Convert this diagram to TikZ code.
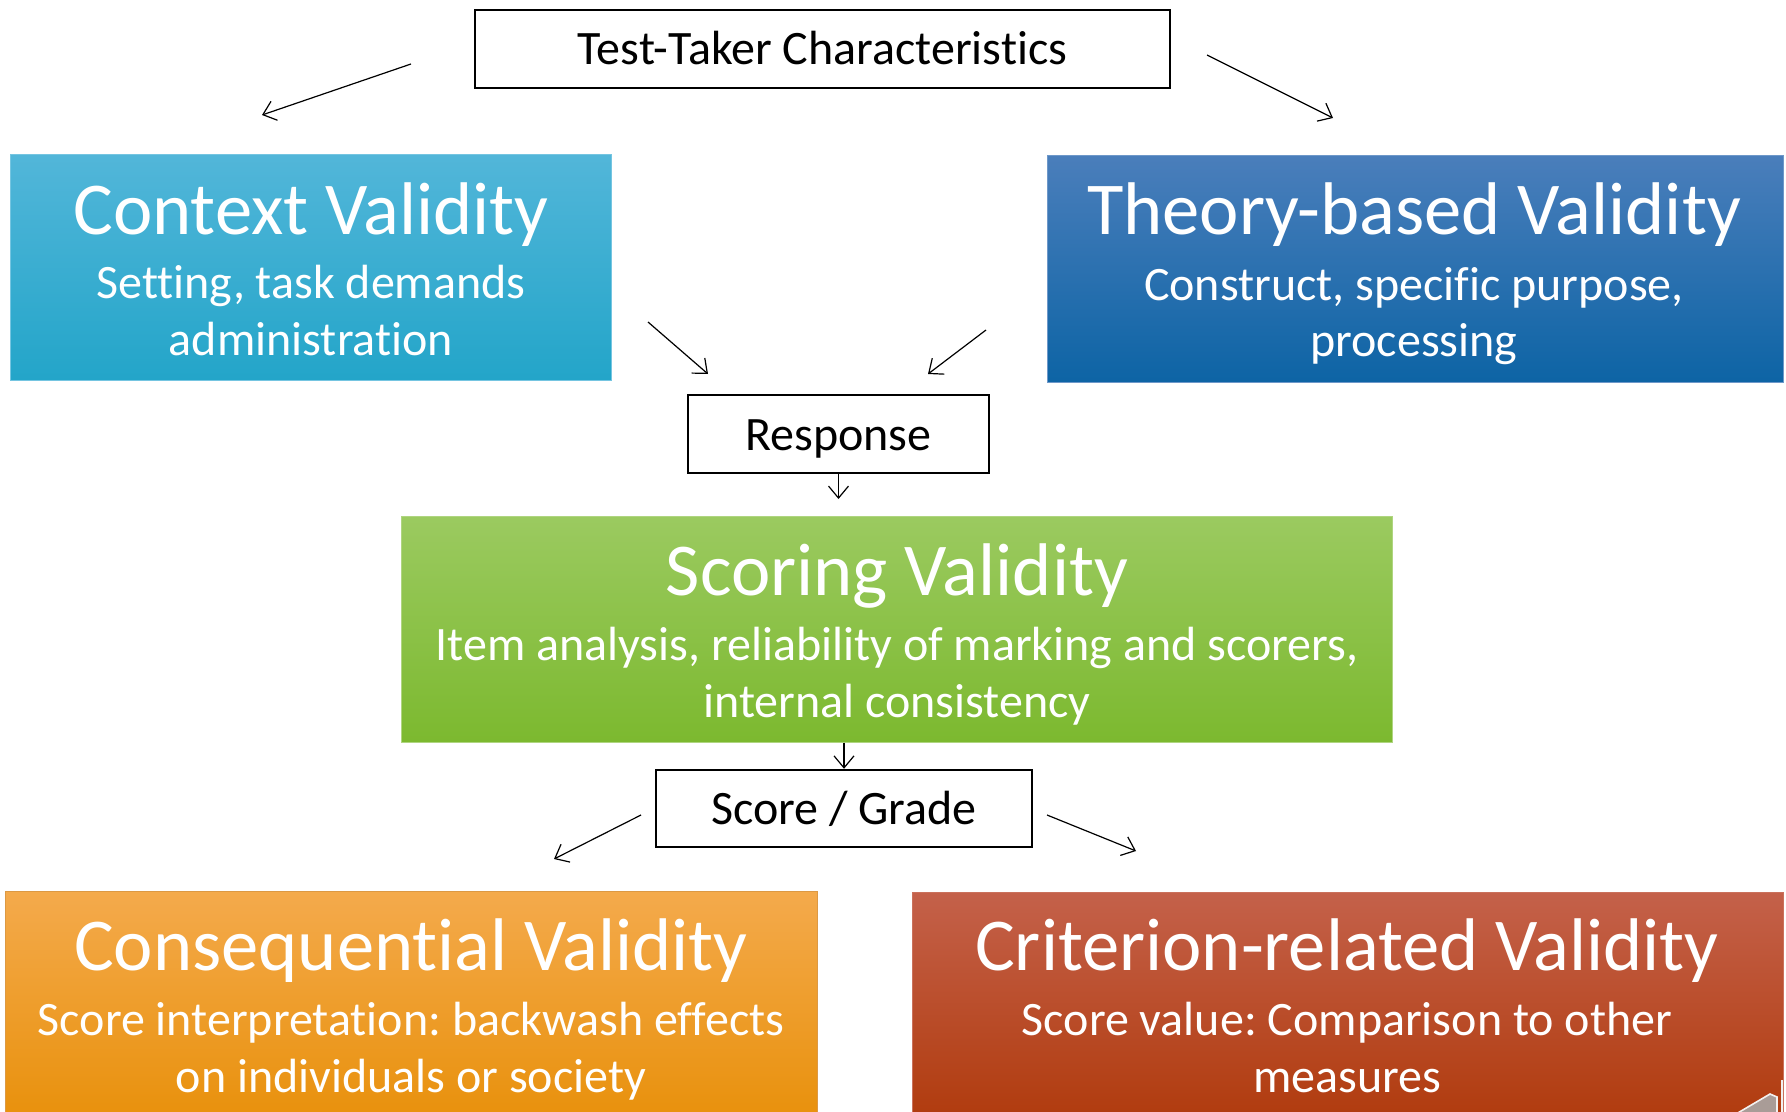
\documentclass[tikz,border=0pt]{standalone}
\usepackage{fontspec}
\setmainfont{Carlito}[Ligatures={NoCommon,NoRequired,NoContextual}]
\frenchspacing
\newcommand{\tiB}{t\kern0pt i}
\usetikzlibrary{arrows.meta}
\definecolor{ctxtop}{HTML}{52B6D9}
\definecolor{ctxbot}{HTML}{23A5C9}
\definecolor{thtop}{HTML}{4A7EBB}
\definecolor{thbot}{HTML}{0D64A5}
\definecolor{sctop}{HTML}{9BCA60}
\definecolor{scbot}{HTML}{7CB92F}
\definecolor{cqtop}{HTML}{F4AA4C}
\definecolor{cqbot}{HTML}{E8900A}
\definecolor{crtop}{HTML}{C4614A}
\definecolor{crbot}{HTML}{B03A0C}
\definecolor{icongrey}{HTML}{A99C97}
\begin{document}
\begin{tikzpicture}[x=0.5pt,y=-0.5pt,
  flowbox/.style={draw=black,line width=1.2pt,fill=white,inner sep=0},
  conn/.style={line width=0.6pt,-{Straight Barb[length=6pt,width=10pt]}},
  bigbox/.style={inner sep=0,line width=0.5pt},
  ttl/.style={anchor=base,text=white,inner sep=0,font=\fontsize{37.3}{40}\selectfont\frenchspacing},
  subt/.style={anchor=base,text=white,inner sep=0,font=\fontsize{24}{28}\selectfont\frenchspacing},
  lbl/.style={anchor=base,inner sep=0,font=\fontsize{24}{28}\selectfont\frenchspacing}]
\useasboundingbox (0,0) rectangle (1786,1112);

% big boxes
\node[bigbox,top color=ctxtop,bottom color=ctxbot,draw=ctxtop!80!white,minimum width=300.5pt,minimum height=112.5pt] (ctx) at (310.5,267.5) {};
\node[bigbox,top color=thtop,bottom color=thbot,draw=thtop!80!white,minimum width=368pt,minimum height=113pt] (theory) at (1415,269) {};
\node[bigbox,top color=sctop,bottom color=scbot,draw=sctop!80!white,minimum width=495.5pt,minimum height=113pt] (scoring) at (896.5,629) {};
\node[bigbox,top color=cqtop,bottom color=cqbot,draw=cqtop!90!black,minimum width=406pt,minimum height=117pt] (conseq) at (411,1008) {};
\node[bigbox,top color=crtop,bottom color=crbot,draw=crtop!90!white,minimum width=435.5pt,minimum height=116.5pt] (crit) at (1347.5,1008.5) {};

% texts in big boxes
\node[ttl] (ctxT) at (311,235) {Context Validity};
\node[subt] (ctxS1) at (311,299) {Setting, task demands};
\node[subt] (ctxS2) at (311,356) {administra\tiB on};

\node[ttl] (thT) at (1414,235) {Theory-based Validity};
\node[subt] (thS1) at (1414,300) {Construct, specific purpose,};
\node[subt] (thS2) at (1414,357) {processing};

\node[ttl] (scT) at (897,595) {Scoring Validity};
\node[subt] (scS1) at (897,660) {Item analysis, reliability of marking and scorers,};
\node[subt] (scS2) at (897,717) {internal consistency};

\node[ttl] (cqT) at (411,970) {Consequen\tiB al Validity};
\node[subt] (cqS1) at (411,1035) {Score interpreta\tiB on: backwash effects};
\node[subt] (cqS2) at (411,1092) {on individuals or society};

\node[ttl] (crT) at (1347,970) {Criterion-related Validity};
\node[subt] (crS1) at (1347,1035) {Score value: Comparison to other};
\node[subt] (crS2) at (1347,1092) {measures};

% small boxes
\node[flowbox,minimum width=347.5pt,minimum height=39pt] (ttc) at (822.5,49) {};
\node[lbl] (ttcL) at (822.5,65) {Test-Taker Characteris\tiB cs};
\node[flowbox,minimum width=150.5pt,minimum height=39pt] (resp) at (838.5,434) {};
\node[lbl] (respL) at (838.5,450) {Response};
\node[flowbox,minimum width=188pt,minimum height=38.5pt] (grade) at (844,808.5) {};
\node[lbl] (gradeL) at (844,824) {Score / Grade};

% connector endpoints
\coordinate (a1s) at (411,64);   \coordinate (a1e) at (262,115);
\coordinate (a2s) at (1207,55);  \coordinate (a2e) at (1333,118);
\coordinate (a3s) at (648,322);  \coordinate (a3e) at (708,374);
\coordinate (a4s) at (986,330);  \coordinate (a4e) at (928,374);
\coordinate (a5e) at (838.5,499);
\coordinate (a7s) at (641,815);  \coordinate (a7e) at (554,859);
\coordinate (a8s) at (1047,815); \coordinate (a8e) at (1136,851);

\draw[conn] (a1s) -- (a1e);
\draw[conn] (a2s) -- (a2e);
\draw[conn] (a3s) -- (a3e);
\draw[conn] (a4s) -- (a4e);
\draw[conn] (resp.south) -- (a5e);
\draw[conn] (scoring.south -| grade.north) -- (grade.north);
\draw[conn] (a7s) -- (a7e);
\draw[conn] (a8s) -- (a8e);

% small icon in corner
\fill[icongrey,draw=white!85!icongrey,line width=0.8pt] (1736,1114) -- (1770,1094) -- (1777,1097) -- (1777,1114) -- cycle;
\draw[white!85!icongrey,line width=0.8pt] (1782,1080) -- (1782,1114);
\end{tikzpicture}
\end{document}
